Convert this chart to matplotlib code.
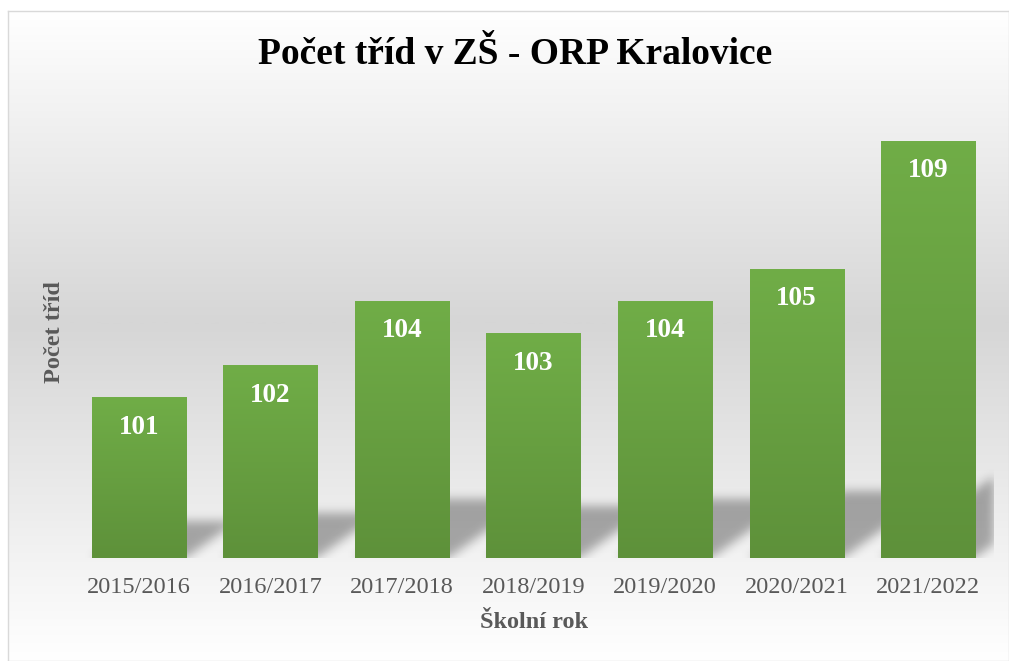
import matplotlib
matplotlib.use("Agg")
import matplotlib.pyplot as plt
import numpy as np
from matplotlib.colors import LinearSegmentedColormap

# data
years = ["2015/2016", "2016/2017", "2017/2018", "2018/2019",
         "2019/2020", "2020/2021", "2021/2022"]
classes = [101, 102, 104, 103, 104, 105, 109]

title = "Počet tříd v ZŠ - ORP Kralovice"
xlabel = "Školní rok"
ylabel = "Počet tříd"

plt.rcParams["font.family"] = ["Liberation Serif", "DejaVu Serif"]

W, H = 1009, 661
fig = plt.figure(figsize=(W / 100, H / 100), dpi=100)
fig.patch.set_facecolor("white")

# chart area background: white -> grey -> white
bg = fig.add_axes([8 / W, 0, 1 - 8 / W, (H - 11) / H], zorder=0)
t = np.linspace(0, 1, 400)
grad = 1 - np.interp(t, [0, 0.48, 1], [0.0, 1.0, 0.0])
bg_cmap = LinearSegmentedColormap.from_list("bg", ["#d6d6d6", "#ffffff"])
bg.imshow(grad[:, None], aspect="auto", cmap=bg_cmap, vmin=0, vmax=1,
          extent=(0, 1, 0, 1), origin="upper")
bg.set_xticks([])
bg.set_yticks([])
for s in bg.spines.values():
    s.set_color("#d9d9d9")
    s.set_linewidth(1.0)

# plot area
ax = fig.add_axes([73 / W, (H - 558) / H, (994 - 73) / W, (558 - 109) / H],
                  zorder=1)
ax.patch.set_alpha(0)
x = np.arange(len(years))
bar_w = 0.715
y0, y1 = 96, 110
ax.set_xlim(-0.5, len(years) - 0.5)
ax.set_ylim(y0, y1)

# soft perspective shadow behind the bars
nx, ny = 921, 449
gx = np.linspace(-0.5, len(years) - 0.5, nx)
gy = np.linspace(y0, y1, ny)
XX, YY = np.meshgrid(gx, gy)
mask = np.zeros_like(XX)
skew = 0.34  # x units per y unit
for xi, v in zip(x, classes):
    h = 0.23 * (v - y0)
    rel = YY - y0
    inside = (rel >= 0) & (rel <= h)
    left = xi - bar_w / 2 + skew * rel
    right = xi + bar_w / 2 + skew * rel
    inside &= (XX >= left) & (XX <= right)
    mask = np.maximum(mask, inside.astype(float))

sigma = 5
r = 3 * sigma
k = np.exp(-0.5 * (np.arange(-r, r + 1) / sigma) ** 2)
k /= k.sum()
pad = np.pad(mask, r, mode="constant")
tmp = sum(k[i] * pad[:, i:i + pad.shape[1] - 2 * r] for i in range(2 * r + 1))
blur = sum(k[i] * tmp[i:i + tmp.shape[0] - 2 * r, :] for i in range(2 * r + 1))
shadow = np.zeros((ny, nx, 4))
shadow[..., 3] = blur * 0.32
ax.imshow(shadow, extent=(gx[0], gx[-1], y0, y1), origin="lower",
          aspect="auto", zorder=1, interpolation="bilinear")

# bars with vertical gradient
bars = ax.bar(x, classes, width=bar_w, color="#66a040", zorder=2,
              linewidth=0)
bar_cmap = LinearSegmentedColormap.from_list("bar", ["#5e913a", "#70ad47"])
for b, v in zip(bars, classes):
    bx = b.get_x()
    ax.imshow(np.linspace(0, 1, 100)[:, None], cmap=bar_cmap, aspect="auto",
              origin="lower", extent=(bx, bx + bar_w, y0, v), zorder=3,
              clip_path=b, clip_on=True)
    ax.text(b.get_x() + bar_w / 2, v - 0.92, str(v), ha="center",
            va="center", color="white", fontsize=19.5, fontweight="bold",
            zorder=4)

ax.set_xlim(-0.5, len(years) - 0.5)
ax.set_ylim(y0, y1)
ax.set_xticks(x)
ax.set_xticklabels(years, fontsize=17.5, color="#595959")
ax.tick_params(axis="x", length=0, pad=14)
ax.set_yticks([])
for s in ax.spines.values():
    s.set_visible(False)

fig.text(515 / W, 1 - 55 / H, title, ha="center", va="center",
         fontsize=27, fontweight="bold", color="black")
fig.text(534 / W, 1 - 622 / H, xlabel, ha="center", va="center",
         fontsize=17.5, fontweight="bold", color="#595959")
fig.text(55 / W, 1 - 332 / H, ylabel, ha="center", va="center",
         rotation=90, fontsize=17.5, fontweight="bold", color="#595959")

fig.savefig("out.png", dpi=100)
